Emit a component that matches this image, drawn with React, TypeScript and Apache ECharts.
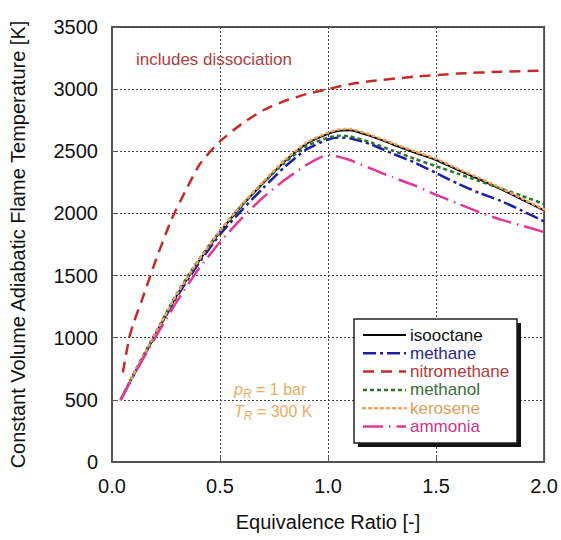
import React, { useEffect, useRef } from "react";
import * as echarts from "echarts";

const phi = [0.04, 0.1, 0.2, 0.3, 0.4, 0.5, 0.6, 0.7, 0.8, 0.9, 1.0, 1.05, 1.1, 1.2, 1.3, 1.4, 1.5, 1.6, 1.7, 1.8, 1.9, 2.0];
const isooctane = [500, 700, 1020, 1340, 1610, 1850, 2060, 2245, 2420, 2560, 2640, 2665, 2670, 2620, 2555, 2490, 2430, 2350, 2275, 2195, 2110, 2025];
const methane = [500, 700, 1020, 1330, 1595, 1830, 2025, 2205, 2375, 2515, 2595, 2610, 2605, 2555, 2480, 2410, 2325, 2240, 2165, 2100, 2020, 1935];
const methanol = [500, 710, 1035, 1355, 1625, 1860, 2065, 2245, 2410, 2540, 2610, 2625, 2620, 2570, 2505, 2440, 2380, 2320, 2260, 2200, 2140, 2075];
const kerosene = [500, 705, 1030, 1350, 1620, 1860, 2070, 2255, 2430, 2570, 2650, 2675, 2680, 2630, 2565, 2500, 2440, 2360, 2285, 2205, 2118, 2032];
const ammonia = [500, 695, 1000, 1290, 1550, 1770, 1960, 2130, 2270, 2390, 2470, 2455, 2430, 2360, 2290, 2225, 2150, 2080, 2010, 1950, 1900, 1850];

const phiNitro = [0.05, 0.08, 0.1, 0.14, 0.2, 0.275, 0.35, 0.41, 0.5, 0.6, 0.7, 0.8, 0.9, 1.0, 1.1, 1.2, 1.4, 1.6, 1.8, 2.0];
const nitromethane = [720, 1000, 1120, 1310, 1610, 1950, 2215, 2405, 2580, 2720, 2830, 2905, 2960, 3000, 3040, 3065, 3100, 3125, 3140, 3150];

const xTicks = [0, 0.5, 1.0, 1.5, 2.0];
const yTicks = [0, 500, 1000, 1500, 2000, 2500, 3000, 3500];

const names = ["isooctane", "methane", "nitromethane", "methanol", "kerosene", "ammonia"];
const lineColors = ["#000000", "#1f1fa6", "#c62b2b", "#2d722d", "#f0a15c", "#e03a98"];
const textColors = ["#111111", "#2a2a8c", "#b03a3a", "#3a6e3a", "#dba05e", "#c8368e"];
const dashes: any[] = ["solid", [13, 4, 3, 4], [11, 7], [4, 3], [2, 4], [20, 6, 1.5, 6]];

const pairs = (xs: number[], ys: number[]) => xs.map((x, i) => [x, ys[i]]);

export default function App() {
  const ref = useRef<HTMLDivElement>(null);
  useEffect(() => {
    if (!ref.current) return;
    const chart = echarts.init(ref.current, null, { renderer: "svg" });
    const font = "Liberation Sans, Arial, sans-serif";
    const seriesData = [isooctane, methane, nitromethane, methanol, kerosene, ammonia];
    const series = names.map((name, i) => ({
      name,
      type: "line",
      data: pairs(i === 2 ? phiNitro : phi, seriesData[i]),
      symbol: "none",
      showSymbol: false,
      smooth: 0.2,
      lineStyle: { color: lineColors[i], type: dashes[i], width: i === 0 ? 2 : 2.5, cap: i === 4 ? "round" : "butt" },
      itemStyle: { color: lineColors[i] },
      z: 3,
    }));

    const legendX = 354, legendY = 319, legendW = 163, legendH = 124;
    const rowY = (i: number) => legendY + 16 + i * 18.3;
    const legendEls: any[] = [
      { type: "rect", z: 20, shape: { x: legendX + 4, y: legendY + 4, width: legendW, height: legendH }, style: { fill: "#111" } },
      { type: "rect", z: 21, shape: { x: legendX, y: legendY, width: legendW, height: legendH }, style: { fill: "#fff", stroke: "#222", lineWidth: 1.5 } },
    ];
    names.forEach((n, i) => {
      const d = dashes[i];
      legendEls.push({
        type: "line", z: 22,
        shape: { x1: legendX + 9, y1: rowY(i), x2: legendX + 52, y2: rowY(i) },
        style: { stroke: lineColors[i], lineWidth: i === 0 ? 2 : 2.5, lineDash: d === "solid" ? null : d, lineCap: i === 4 ? "round" : "butt" },
      });
      legendEls.push({
        type: "text", z: 22, x: legendX + 56, y: rowY(i),
        style: { text: n, fill: textColors[i], font: "17px Liberation Sans, Arial, sans-serif", verticalAlign: "middle", align: "left" },
      });
    });

    const subRich = {
      i: { fontStyle: "italic", fontSize: 16, fontFamily: font, fill: "#e8ad62" },
      s: { fontStyle: "italic", fontSize: 12, fontFamily: font, fill: "#e8ad62", padding: [10, 0, 0, 0] },
      n: { fontSize: 16, fontFamily: font, fill: "#e8ad62" },
    };

    chart.setOption({
      animation: false,
      backgroundColor: "#fff",
      grid: { left: 110, top: 27, width: 436, height: 435, show: true, borderColor: "#555", borderWidth: 2, backgroundColor: "transparent" },
      xAxis: {
        type: "value",
        min: xTicks[0],
        max: xTicks[xTicks.length - 1],
        interval: 0.5,
        name: "Equivalence Ratio [-]",
        nameLocation: "middle",
        nameGap: 50,
        nameTextStyle: { fontFamily: font, fontSize: 20, color: "#111" },
        axisLine: { lineStyle: { color: "#555", width: 2 } },
        axisTick: { inside: true, length: 6, lineStyle: { color: "#555" } },
        axisLabel: { fontFamily: font, fontSize: 20, color: "#111", margin: 14, formatter: (v: number) => v.toFixed(1) },
        splitLine: { show: true, lineStyle: { color: "#444", type: [2, 2], width: 1 } },
      },
      yAxis: {
        type: "value",
        min: yTicks[0],
        max: yTicks[yTicks.length - 1],
        interval: 500,
        name: "Constant Volume Adiabatic Flame Temperature [K]",
        nameLocation: "middle",
        nameGap: 84,
        nameTextStyle: { fontFamily: font, fontSize: 20, color: "#111" },
        axisLine: { lineStyle: { color: "#555", width: 2 } },
        axisTick: { inside: true, length: 6, lineStyle: { color: "#555" } },
        axisLabel: { fontFamily: font, fontSize: 20, color: "#111", margin: 14, formatter: (v: number) => String(v) },
        splitLine: { show: true, lineStyle: { color: "#444", type: [2, 2], width: 1 } },
      },
      graphic: [
        ...legendEls,
        {
          type: "text", left: 136, top: 51, z: 6,
          style: { text: "includes dissociation", fill: "#b04040", font: "17px Liberation Sans, Arial, sans-serif" },
        },
        {
          type: "text", left: 234, top: 381, z: 6,
          style: { text: "{i|p}{s|R}{n| = 1 bar}", fill: "#e8ad62", rich: subRich },
        },
        {
          type: "text", left: 234, top: 403, z: 6,
          style: { text: "{i|T}{s|R}{n| = 300 K}", fill: "#e8ad62", rich: subRich },
        },
      ],
      series,
    });
    return () => chart.dispose();
  }, []);
  return <div ref={ref} style={{ width: 561, height: 540, position: "absolute", left: 0, top: 0 }} />;
}
